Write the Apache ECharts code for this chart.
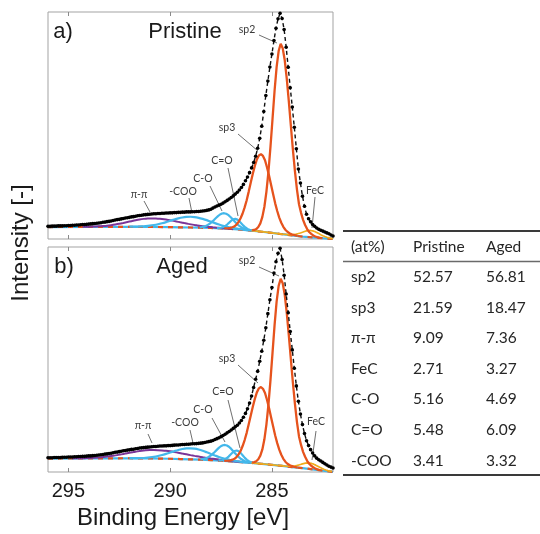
<!DOCTYPE html>
<html><head><meta charset="utf-8">
<script src="https://cdn.jsdelivr.net/npm/echarts@6/dist/echarts.min.js"></script>
<style>html,body{margin:0;padding:0;background:#fff}#c{width:540px;height:534px}</style>
</head><body><div id="c"></div>
<script>
// ---------- DATA ----------
const energies = [
296.0,295.9,295.8,295.7,295.6,295.5,295.4,295.3,295.2,295.1,
295.0,294.9,294.8,294.7,294.6,294.5,294.4,294.3,294.2,294.1,
294.0,293.9,293.8,293.7,293.6,293.5,293.4,293.3,293.2,293.1,
293.0,292.9,292.8,292.7,292.6,292.5,292.4,292.3,292.2,292.1,
292.0,291.9,291.8,291.7,291.6,291.5,291.4,291.3,291.2,291.1,
291.0,290.9,290.8,290.7,290.6,290.5,290.4,290.3,290.2,290.1,
290.0,289.9,289.8,289.7,289.6,289.5,289.4,289.3,289.2,289.1,
289.0,288.9,288.8,288.7,288.6,288.5,288.4,288.3,288.2,288.1,
288.0,287.9,287.8,287.7,287.6,287.5,287.4,287.3,287.2,287.1,
287.0,286.9,286.8,286.7,286.6,286.5,286.4,286.3,286.2,286.1,
286.0,285.9,285.8,285.7,285.6,285.5,285.4,285.3,285.2,285.1,
285.0,284.9,284.8,284.7,284.6,284.5,284.4,284.3,284.2,284.1,
284.0,283.9,283.8,283.7,283.6,283.5,283.4,283.3,283.2,283.1,
283.0,282.9,282.8,282.7,282.6,282.5,282.4,282.3,282.2,282.1,
282.0];

const pristineMeasured = [
5.6,5.6,5.7,5.7,5.7,5.8,5.8,5.8,5.9,5.9,
6.0,6.0,6.1,6.1,6.2,6.2,6.3,6.4,6.4,6.5,
6.6,6.7,6.8,6.9,7.0,7.1,7.2,7.4,7.5,7.7,
7.8,8.0,8.2,8.4,8.6,8.7,8.9,9.1,9.3,9.4,
9.6,9.8,9.9,10.1,10.3,10.4,10.5,10.7,10.8,10.9,
11.0,11.1,11.2,11.2,11.3,11.3,11.4,11.4,11.5,11.5,
11.6,11.6,11.7,11.7,11.8,11.8,11.9,11.9,12.0,12.0,
12.0,12.1,12.1,12.2,12.2,12.3,12.4,12.5,12.7,12.9,
13.2,13.7,14.2,14.6,15.0,15.4,15.9,16.5,17.1,17.7,
18.4,19.1,19.9,20.7,21.7,22.8,24.2,25.8,27.5,29.4,
31.5,33.9,36.7,40.2,44.6,50.0,56.5,63.6,70.0,76.2,
82.0,88.0,93.4,97.6,100.0,97.7,92.8,85.0,76.1,67.0,
58.5,49.5,40.0,31.0,24.8,19.0,14.5,11.0,9.0,7.6,
6.4,5.6,4.9,4.3,3.9,3.5,3.1,2.7,2.3,1.8,
1.3];

const agedMeasured = [
6.4,6.4,6.4,6.5,6.5,6.5,6.5,6.6,6.6,6.6,
6.7,6.7,6.7,6.8,6.8,6.9,6.9,7.0,7.0,7.1,
7.2,7.2,7.3,7.4,7.5,7.6,7.7,7.8,8.0,8.1,
8.3,8.4,8.6,8.8,8.9,9.1,9.3,9.5,9.6,9.8,
9.9,10.1,10.2,10.4,10.5,10.7,10.8,10.9,11.0,11.1,
11.2,11.3,11.4,11.4,11.5,11.6,11.6,11.7,11.7,11.8,
11.8,11.9,12.0,12.1,12.1,12.2,12.3,12.3,12.4,12.4,
12.5,12.6,12.6,12.7,12.8,12.9,13.0,13.2,13.4,13.6,
13.8,14.1,14.5,14.9,15.3,15.8,16.3,16.9,17.5,18.1,
18.8,19.5,20.2,20.9,21.9,23.0,24.5,26.2,28.3,30.8,
34.0,37.8,41.5,45.0,49.5,54.0,58.9,64.5,70.8,77.0,
82.5,89.0,94.0,97.8,100.0,95.0,88.0,79.6,71.2,62.8,
54.6,46.4,38.5,31.6,25.9,21.2,17.2,14.0,11.8,10.0,
8.5,7.2,6.2,5.5,4.9,4.3,3.7,3.1,2.6,2.2,
1.8];

// Pristine fitted components [binding energy, intensity]
const prBackground = [[296,5.3],[294,5.35],[292,5.4],[291,5.35],[290,5.25],[289.5,5.18],[289,5.1],[288.5,5.0],[288,4.88],[287.5,4.7],[287,4.45],[286.5,4.12],[286,3.72],[285.5,3.22],[285,2.7],[284.5,2.12],[284,1.6],[283.5,1.08],[283,0.7],[282.5,0.35],[282,0.02]];
const prPiPi = [[294.3,5.39],[294.1,5.42],[293.9,5.46],[293.7,5.52],[293.5,5.61],[293.3,5.74],[293.1,5.90],[292.9,6.13],[292.7,6.40],[292.5,6.72],[292.3,7.10],[292.1,7.51],[291.9,7.91],[291.7,8.30],[291.5,8.65],[291.3,8.92],[291.1,9.10],[290.9,9.14],[290.7,9.08],[290.5,8.94],[290.3,8.73],[290.1,8.46],[289.9,8.14],[289.7,7.78],[289.5,7.41],[289.3,7.05],[289.1,6.70],[288.9,6.37],[288.7,6.08],[288.5,5.80],[288.3,5.56],[288.1,5.37],[287.9,5.18],[287.7,5.01],[287.5,4.87],[287.3,4.71],[287.1,4.58],[286.9,4.43]];
const prCOO = [[292.0,5.44],[291.8,5.47],[291.6,5.52],[291.4,5.60],[291.2,5.74],[291.0,5.93],[290.8,6.20],[290.6,6.55],[290.4,6.99],[290.2,7.50],[290.0,8.06],[289.8,8.62],[289.6,9.12],[289.4,9.53],[289.2,9.78],[289.0,9.85],[288.8,9.71],[288.6,9.39],[288.4,8.91],[288.2,8.35],[288.0,7.69],[287.8,7.03],[287.6,6.43],[287.4,5.89],[287.2,5.42],[287.0,5.03],[286.8,4.70],[286.6,4.42],[286.4,4.18],[286.2,3.96],[286.0,3.76]];
const prCO = [[288.55,5.18],[288.45,5.30],[288.35,5.49],[288.25,5.79],[288.15,6.24],[288.05,6.84],[287.95,7.56],[287.85,8.40],[287.75,9.31],[287.65,10.15],[287.55,10.86],[287.45,11.31],[287.35,11.43],[287.25,11.21],[287.15,10.67],[287.05,9.88],[286.95,8.94],[286.85,7.93],[286.75,6.99],[286.65,6.16],[286.55,5.48],[286.45,4.93],[286.35,4.52],[286.25,4.23],[286.15,4.01]];
const prCdO = [[287.7,4.82],[287.6,4.86],[287.5,4.99],[287.4,5.25],[287.3,5.72],[287.2,6.41],[287.1,7.26],[287.0,8.12],[286.9,8.73],[286.8,8.92],[286.7,8.60],[286.6,7.86],[286.5,6.88],[286.4,5.90],[286.3,5.08],[286.2,4.48],[286.1,4.09],[286.0,3.84],[285.9,3.67]];
const prSp3 = [[287.34,4.7],[287.14,4.8],[287.04,4.9],[286.94,5.2],[286.84,5.6],[286.74,6.4],[286.64,7.5],[286.54,9.2],[286.44,11.3],[286.34,14.0],[286.24,17.2],[286.14,21.0],[286.04,25.0],[285.94,28.9],[285.84,32.4],[285.74,35.3],[285.64,37.0],[285.54,37.6],[285.44,36.8],[285.34,34.9],[285.24,31.7],[285.14,28.0],[285.04,23.9],[284.94,19.8],[284.84,15.8],[284.74,12.4],[284.64,9.5],[284.54,7.2],[284.44,5.4],[284.34,4.1],[284.24,3.2],[284.14,2.6],[284.04,2.1],[283.94,1.8],[283.74,1.4]];
const prSp2 = [[285.97,3.9],[285.87,4.0],[285.77,4.4],[285.67,5.3],[285.57,6.9],[285.47,9.8],[285.37,14.3],[285.27,21.0],[285.17,29.9],[285.07,41.0],[284.97,53.3],[284.87,65.7],[284.77,76.2],[284.67,83.3],[284.57,86.5],[284.47,84.5],[284.37,79.2],[284.27,71.0],[284.17,61.0],[284.07,50.2],[283.97,39.6],[283.87,30.1],[283.77,21.9],[283.67,15.4],[283.57,11.6],[283.47,8.5],[283.37,6.2],[283.27,4.4],[283.17,3.1],[283.07,2.3],[282.97,1.6],[282.87,1.1],[282.77,0.8],[282.67,0.6]];
const prFeC = [[286.0,3.73],[285.5,3.24],[285.1,2.83],[284.9,2.62],[284.7,2.40],[284.5,2.18],[284.3,2.02],[284.2,1.98],[284.1,1.95],[284.0,1.98],[283.9,2.06],[283.8,2.20],[283.7,2.42],[283.6,2.68],[283.5,2.99],[283.4,3.32],[283.3,3.60],[283.2,3.76],[283.1,3.78],[283.0,3.61],[282.9,3.30],[282.8,2.88],[282.7,2.40],[282.6,1.92],[282.5,1.48],[282.4,1.09],[282.3,0.77],[282.2,0.53],[282.1,0.33],[282.0,0.19]];

// Aged fitted components
const agBackground = [[296,6.0],[294,6.1],[292,6.15],[291,6.05],[290,5.92],[289.5,5.8],[289,5.65],[288.5,5.5],[288,5.3],[287.5,5.05],[287,4.75],[286.5,4.4],[286,4.05],[285.5,3.65],[285,3.2],[284.5,2.7],[284,2.2],[283.5,1.75],[283,1.2],[282.5,0.6],[282,0.02]];
const agPiPi = [[294.8,6.08],[294.6,6.11],[294.4,6.14],[294.2,6.20],[294.0,6.26],[293.8,6.35],[293.6,6.45],[293.4,6.60],[293.2,6.77],[293.0,6.99],[292.8,7.25],[292.6,7.54],[292.4,7.88],[292.2,8.23],[292.0,8.59],[291.8,8.91],[291.6,9.22],[291.4,9.48],[291.2,9.68],[291.0,9.80],[290.8,9.82],[290.6,9.77],[290.4,9.64],[290.2,9.47],[290.0,9.23],[289.8,8.94],[289.6,8.62],[289.4,8.26],[289.2,7.91],[289.0,7.55],[288.8,7.21],[288.6,6.89],[288.4,6.57],[288.2,6.27],[288.0,6.01],[287.8,5.78],[287.6,5.54],[287.4,5.31],[287.2,5.13],[287.0,4.92],[286.8,4.74],[286.4,4.39]];
const agCOO = [[292.0,6.18],[291.8,6.17],[291.6,6.20],[291.4,6.26],[291.2,6.37],[291.0,6.55],[290.8,6.79],[290.6,7.14],[290.4,7.58],[290.2,8.12],[290.0,8.71],[289.8,9.30],[289.6,9.86],[289.4,10.27],[289.2,10.55],[289.0,10.60],[288.8,10.43],[288.6,10.05],[288.4,9.49],[288.2,8.81],[288.0,8.09],[287.8,7.40],[287.6,6.72],[287.4,6.13],[287.2,5.66],[287.0,5.25],[286.8,4.92],[286.6,4.65],[286.4,4.43],[286.2,4.24],[286.0,4.08]];
const agCO = [[288.51,5.68],[288.41,5.78],[288.31,5.97],[288.21,6.27],[288.11,6.73],[288.01,7.34],[287.91,8.09],[287.81,8.97],[287.71,9.90],[287.61,10.78],[287.51,11.51],[287.41,11.96],[287.31,12.09],[287.21,11.85],[287.11,11.28],[287.01,10.44],[286.91,9.44],[286.81,8.39],[286.71,7.39],[286.61,6.52],[286.51,5.80],[286.41,5.23],[286.31,4.82],[286.21,4.52],[286.11,4.31]];
const agCdO = [[287.63,5.16],[287.53,5.20],[287.43,5.33],[287.33,5.61],[287.23,6.12],[287.13,6.88],[287.03,7.81],[286.93,8.72],[286.83,9.40],[286.73,9.61],[286.63,9.26],[286.53,8.44],[286.43,7.39],[286.33,6.33],[286.23,5.44],[286.13,4.80],[286.03,4.39],[285.93,4.13],[285.83,3.96]];
const agSp3 = [[287.34,5.0],[287.14,5.1],[287.04,5.2],[286.94,5.5],[286.84,5.9],[286.74,6.7],[286.64,7.8],[286.54,9.4],[286.44,11.6],[286.34,14.3],[286.24,17.5],[286.14,21.4],[286.04,25.3],[285.94,29.2],[285.84,32.7],[285.74,35.6],[285.64,37.4],[285.54,38.0],[285.44,37.2],[285.34,35.3],[285.24,32.2],[285.14,28.5],[285.04,24.4],[284.94,20.3],[284.84,16.3],[284.74,12.9],[284.64,10.0],[284.54,7.7],[284.44,5.9],[284.34,4.6],[284.24,3.7],[284.14,3.1],[284.04,2.7],[283.94,2.4],[283.74,2.0]];
const agSp2 = [[285.97,4.2],[285.87,4.4],[285.77,4.8],[285.67,5.7],[285.57,7.3],[285.47,10.1],[285.37,14.6],[285.27,21.3],[285.17,30.2],[285.07,41.2],[284.97,53.4],[284.87,65.7],[284.77,76.2],[284.67,83.2],[284.57,86.4],[284.47,84.4],[284.37,79.2],[284.27,71.0],[284.17,61.1],[284.07,50.4],[283.97,39.9],[283.87,30.5],[283.77,22.3],[283.67,15.9],[283.57,12.1],[283.47,9.0],[283.37,6.8],[283.27,5.0],[283.17,3.7],[283.07,2.8],[282.97,2.1],[282.87,1.5],[282.77,1.2],[282.67,0.9]];
const agFeC = [[286.0,4.06],[285.5,3.67],[285.15,3.36],[284.75,2.99],[284.55,2.81],[284.35,2.62],[284.25,2.58],[284.15,2.56],[284.05,2.58],[283.95,2.65],[283.85,2.78],[283.75,2.96],[283.65,3.22],[283.55,3.49],[283.45,3.74],[283.35,3.94],[283.25,4.04],[283.15,4.01],[283.05,3.83],[282.95,3.50],[282.85,3.07],[282.75,2.59],[282.65,2.11],[282.55,1.65],[282.45,1.25],[282.35,0.92],[282.25,0.64],[282.15,0.42],[282.05,0.23]];

const xTicks = [285, 290, 295];
const panelTags = ['a)', 'b)'];
const panelTitles = ['Pristine', 'Aged'];
const peakNames = ['sp2', 'sp3', 'C=O', 'C-O', '-COO', 'π-π', 'FeC'];

const tableHeader = ['(at%)', 'Pristine', 'Aged'];
const tableRows = ['sp2', 'sp3', 'π-π', 'FeC', 'C-O', 'C=O', '-COO'];
const pristinePct = ['52.57', '21.59', '9.09', '2.71', '5.16', '5.48', '3.41'];
const agedPct = ['56.81', '18.47', '7.36', '3.27', '4.69', '6.09', '3.32'];

// ---------- LAYOUT / STYLE ----------
const ORANGE = '#E6531D', BLUE = '#43B7EA', PURPLE = '#7A3597', YELLOW = '#F0AC1C';
const SANS = '"Liberation Sans", Arial, sans-serif';
const HUM = 'Lato, "Noto Sans", "DejaVu Sans", sans-serif';
const grids = [{left:48, top:12, width:285, height:227}, {left:48, top:247, width:285, height:225}];
// annotation layout per panel: [textX, textY, lineX1, lineY1, lineX2, lineY2]
const annot = [
  [[247,30,259,35,277,43],[227,128,238,134,258,151],[222,161,228,168,238,216],[203,179,210,186,222,211],[183,192,189,198,192,213],[139,195,144,201,150,212],[315,191,315,197,312,228]],
  [[247,261,259,267,279,276],[227,359,238,365,258,383],[223,392,228,400,240,448],[203,410,212,418,225,442],[185,423,190,430,193,443],[143,426,148,434,152,443],[316,422,316,431,312,460]]
];

function pairs(xs, ys){ return xs.map((x,i)=>[x, ys[i]]); }

function panelSeries(gi, d){
  const base = {type:'line', xAxisIndex: gi*2, yAxisIndex: gi, showSymbol:false, silent:true, animation:false};
  const ln = (data, color, width, z, extra) => Object.assign({}, base, {data, z, lineStyle:Object.assign({color, width}, extra||{}), itemStyle:{color}}, );
  return [
    ln(d.bg, BLUE, 2.2, 2),
    ln(d.bg, ORANGE, 2.2, 3, {type:[5,5]}),
    Object.assign(ln(d.pp, PURPLE, 2, 4), {smooth:0.3}),
    Object.assign(ln(d.coo, BLUE, 2.2, 5), {smooth:0.3}),
    ln(d.co, BLUE, 2.2, 5),
    ln(d.cdo, BLUE, 2.2, 5),
    ln(d.fec, YELLOW, 1.7, 6),
    ln(d.sp3, ORANGE, 2.3, 7),
    ln(d.sp2, ORANGE, 2.3, 7),
    Object.assign({}, base, {
      data: d.env, z: 10, showSymbol:true, showAllSymbol:true, symbol:'circle', symbolSize:3.6,
      itemStyle:{color:'#000'}, lineStyle:{color:'#111', width:1.4, type:[4,3]}
    })
  ];
}

const series = [].concat(
  panelSeries(0, {bg:prBackground, pp:prPiPi, coo:prCOO, co:prCO, cdo:prCdO, fec:prFeC, sp3:prSp3, sp2:prSp2, env:pairs(energies, pristineMeasured)}),
  panelSeries(1, {bg:agBackground, pp:agPiPi, coo:agCOO, co:agCO, cdo:agCdO, fec:agFeC, sp3:agSp3, sp2:agSp2, env:pairs(energies, agedMeasured)})
);

function xAx(gi, pos, labels){
  return {
    gridIndex: gi, type:'value', min:282, max:296, inverse:true, position:pos,
    axisLine:{show:false}, splitLine:{show:false},
    axisTick:{show:true, inside:true, length:4, customValues:xTicks, lineStyle:{color:'#8a8a8a', width:1}},
    axisLabel:{show:labels, customValues:xTicks, fontSize:20, color:'#1a1a1a', fontFamily:SANS, margin:9}
  };
}
const xAxis = [xAx(0,'bottom',false), xAx(0,'top',false), xAx(1,'bottom',true), xAx(1,'top',false)];
const yAxis = [0,1].map(gi => ({gridIndex:gi, type:'value', min:0, max:100.6, show:false}));

// graphic: labels, annotations, table
const g = [];
const text = (x, y, s, size, font, fill, align, extra) => g.push(Object.assign({type:'text', x, y, silent:true,
  style:{text:s, fontSize:size, fontFamily:font, fill, align:align||'center', verticalAlign:'middle'}}, extra||{}));
const line = (x1,y1,x2,y2,w,c) => g.push({type:'line', silent:true, shape:{x1,y1,x2,y2}, style:{stroke:c, lineWidth:w}});

[[63,32],[64,267]].forEach((p,i)=>text(p[0], p[1], panelTags[i], 22, SANS, '#1a1a1a'));
[[185,32],[182,267]].forEach((p,i)=>text(p[0], p[1], panelTitles[i], 22, SANS, '#1a1a1a'));
annot.forEach(pan => pan.forEach((a,k) => {
  text(a[0], a[1], peakNames[k], 10.5, HUM, '#3a3a3a');
  line(a[2], a[3], a[4], a[5], 0.8, '#4a4a4a');
}));
text(21, 243, 'Intensity [-]', 24, SANS, '#1a1a1a', 'center', {rotation: Math.PI/2});
text(183, 518, 'Binding Energy [eV]', 24, SANS, '#1a1a1a');

// table
const colX = [351, 413, 486];
line(343, 231, 540, 231, 2, '#3a3a3a');
tableHeader.forEach((h,i)=>text(colX[i], 247, h, 15.5, HUM, '#262626', 'left'));
line(343, 261.5, 540, 261.5, 1.3, '#6a6a6a');
tableRows.forEach((r,i)=>{
  const y = 277 + i*30.6;
  text(colX[0], y, r, 15.5, HUM, '#262626', 'left');
  text(colX[1], y, pristinePct[i], 15.5, HUM, '#262626', 'left');
  text(colX[2], y, agedPct[i], 15.5, HUM, '#262626', 'left');
});
line(343, 475, 540, 475, 2, '#3a3a3a');

const chart = echarts.init(document.getElementById('c'), null, {renderer:'canvas'});
chart.setOption({
  animation:false,
  backgroundColor:'#fff',
  grid: grids.map(gr => Object.assign({show:true, borderColor:'#a3a3a3', borderWidth:1, backgroundColor:'transparent', containLabel:false}, gr)),
  xAxis, yAxis, series, graphic: g
});
</script></body></html>
